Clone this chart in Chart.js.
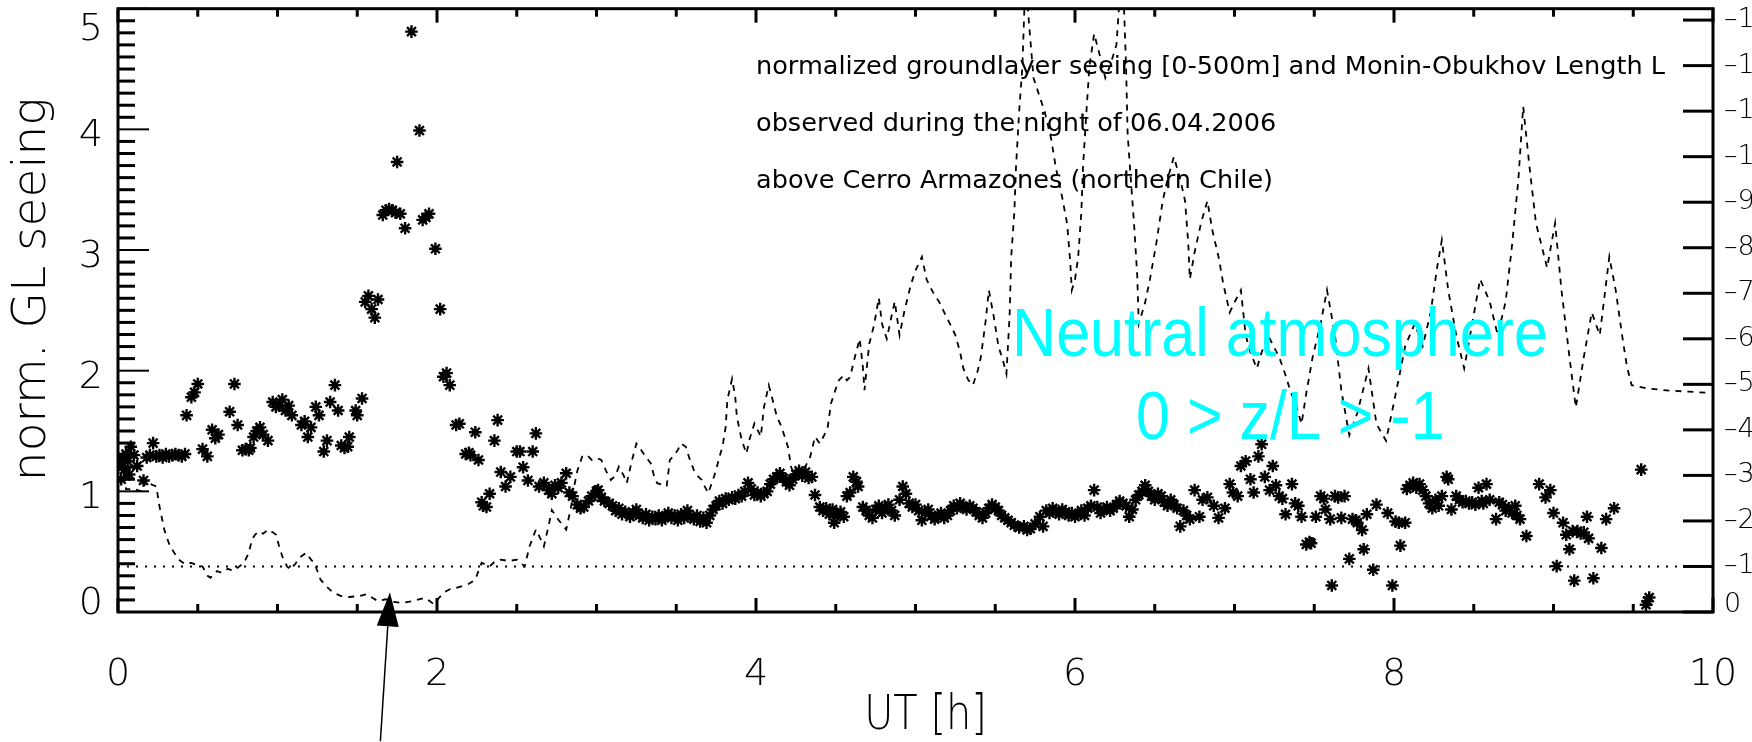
<!DOCTYPE html>
<html>
<head>
<meta charset="utf-8">
<script src="https://cdn.jsdelivr.net/npm/chart.js@4.4.1/dist/chart.umd.min.js"></script>
<style>
  body { margin: 0; background: #fff; }
  #wrap { width: 1752px; height: 742px; }
</style>
</head>
<body>
<div id="wrap"><canvas id="glChart" width="1752" height="742"></canvas></div>
<script>
// Ground layer seeing, normalized (stars), [UT hours, value]
const seeingPoints = [
  [0.01,1.22],[0.02,1.10],[0.03,1.28],[0.04,1.18],[0.05,1.31],[0.06,1.25],[0.07,1.14],[0.08,1.37],
  [0.10,1.30],[0.12,1.21],[0.16,1.09],[0.18,1.28],[0.20,1.30],[0.22,1.40],[0.24,1.29],[0.26,1.30],
  [0.28,1.28],[0.30,1.31],[0.32,1.29],[0.34,1.30],[0.36,1.31],[0.38,1.30],[0.40,1.29],[0.42,1.31],
  [0.43,1.63],[0.46,1.78],[0.48,1.82],[0.50,1.89],[0.53,1.35],[0.56,1.29],[0.59,1.51],[0.61,1.44],
  [0.63,1.47],[0.70,1.66],[0.73,1.89],[0.75,1.55],[0.78,1.34],[0.80,1.35],[0.82,1.34],[0.83,1.36],
  [0.85,1.45],[0.87,1.50],[0.89,1.53],[0.91,1.47],[0.94,1.42],[0.97,1.74],[0.99,1.70],[1.01,1.71],
  [1.03,1.76],[1.05,1.67],[1.07,1.71],[1.09,1.63],[1.15,1.55],[1.17,1.58],[1.19,1.45],[1.21,1.53],
  [1.24,1.70],[1.26,1.63],[1.29,1.33],[1.31,1.42],[1.33,1.74],[1.36,1.88],[1.38,1.67],[1.40,1.38],
  [1.42,1.36],[1.44,1.37],[1.45,1.45],[1.49,1.67],[1.50,1.63],[1.53,1.77],
  [1.55,2.57],[1.57,2.62],[1.59,2.51],[1.61,2.44],[1.63,2.59],[1.66,3.29],[1.68,3.33],[1.70,3.34],
  [1.72,3.33],[1.74,3.31],[1.75,3.73],[1.77,3.30],[1.80,3.18],[1.84,4.81],[1.89,3.99],[1.91,3.25],
  [1.93,3.27],[1.95,3.30],[1.99,3.01],[2.02,2.51],[2.04,1.95],[2.06,1.98],[2.08,1.88],[2.12,1.55],
  [2.14,1.56],[2.18,1.31],[2.20,1.32],[2.21,1.30],[2.24,1.49],[2.26,1.26],[2.28,0.91],[2.29,0.88],
  [2.31,0.87],[2.33,0.98],[2.36,1.42],[2.38,1.59],[2.40,1.16],[2.43,1.04],[2.46,1.12],[2.50,1.33],
  [2.52,1.33],[2.54,1.20],[2.57,1.09],[2.60,1.33],[2.62,1.48],[2.64,1.04],[2.67,1.07],[2.70,1.01],
  [2.72,0.98],[2.74,1.05],[2.76,1.03],[2.78,1.07],[2.81,1.15],[2.83,0.99],[2.85,0.96],[2.88,0.89],
  [2.90,0.86],[2.92,0.87],[2.95,0.92],[2.97,0.96],[3.00,1.00],[3.01,1.01],
  [3.03,0.95],[3.05,0.92],[3.08,0.90],[3.10,0.88],[3.12,0.84],[3.14,0.86],[3.16,0.81],[3.18,0.83],
  [3.21,0.79],[3.23,0.82],[3.25,0.85],[3.27,0.80],[3.29,0.78],[3.31,0.81],[3.33,0.76],[3.35,0.79],
  [3.37,0.77],[3.39,0.80],[3.41,0.76],[3.43,0.79],[3.45,0.82],[3.47,0.78],[3.49,0.80],[3.51,0.76],
  [3.53,0.81],[3.55,0.78],[3.57,0.84],[3.59,0.79],[3.61,0.77],[3.63,0.80],[3.65,0.75],[3.67,0.78],
  [3.69,0.74],[3.71,0.80],[3.73,0.85],[3.75,0.88],[3.77,0.92],[3.79,0.90],[3.81,0.94],[3.83,0.93],
  [3.85,0.95],[3.87,0.94],[3.89,0.97],[3.91,0.96],[3.93,1.00],[3.95,1.07],[3.97,1.02],[3.99,0.97],
  [4.01,0.99],[4.03,0.96],[4.05,0.98],[4.07,1.00],[4.09,1.06],[4.11,1.10],[4.13,1.12],[4.15,1.15],
  [4.17,1.11],[4.19,1.08],[4.21,1.05],[4.23,1.10],[4.25,1.14],[4.27,1.17],[4.29,1.13],[4.31,1.16],
  [4.33,1.11],[4.35,1.12],[4.37,0.97],[4.40,0.87],[4.42,0.84],[4.44,0.86],[4.46,0.81],[4.48,0.85],
  [4.49,0.74],[4.51,0.80],[4.53,0.83],[4.55,0.79],[4.57,0.96],[4.59,0.99],[4.61,1.12],[4.63,1.08],
  [4.64,1.04],[4.67,0.87],[4.69,0.84],[4.71,0.80],[4.73,0.78],[4.75,0.85],[4.77,0.88],[4.79,0.82],
  [4.81,0.86],[4.83,0.89],[4.85,0.84],[4.87,0.80],[4.90,0.93],[4.92,1.04],[4.94,0.98],[4.96,0.90],
  [4.98,0.87],[5.00,0.89],[5.02,0.84],[5.04,0.76],[5.06,0.82],[5.08,0.85],[5.10,0.80],[5.12,0.77],
  [5.14,0.79],[5.16,0.82],[5.18,0.78],[5.20,0.80],[5.22,0.84],[5.24,0.88],[5.26,0.86],[5.28,0.90],
  [5.30,0.87],[5.32,0.85],[5.34,0.88],[5.36,0.86],[5.38,0.83],[5.40,0.80],[5.42,0.78],[5.44,0.82],
  [5.46,0.86],[5.48,0.89],[5.50,0.87],[5.52,0.84],[5.54,0.80],[5.56,0.78],[5.58,0.76],[5.60,0.74],
  [5.62,0.72],[5.65,0.70],[5.68,0.71],[5.70,0.68],[5.72,0.69],[5.75,0.73],[5.78,0.79],[5.80,0.71],
  [5.82,0.84],[5.84,0.82],[5.86,0.86],[5.88,0.83],[5.90,0.81],[5.92,0.85],[5.94,0.83],[5.96,0.80],
  [5.98,0.82],[6.00,0.79],[6.02,0.81],[6.04,0.84],[6.06,0.80],[6.08,0.86],[6.10,0.88],[6.12,1.01],
  [6.14,0.87],[6.16,0.82],[6.18,0.85],[6.20,0.87],[6.22,0.84],[6.24,0.86],[6.26,0.89],[6.28,0.92],
  [6.30,0.90],[6.32,0.88],[6.34,0.79],[6.36,0.85],[6.38,0.93],[6.40,0.97],[6.42,1.00],[6.44,1.05],
  [6.46,1.00],[6.48,0.96],[6.50,0.93],[6.52,0.98],[6.54,0.96],[6.56,0.91],[6.58,0.88],[6.60,0.93],
  [6.62,0.89],[6.64,0.86],[6.66,0.71],[6.68,0.84],[6.70,0.80],[6.72,0.77],[6.75,1.01],[6.78,0.79],
  [6.80,0.93],[6.83,0.95],[6.87,0.88],[6.90,0.78],[6.94,0.86],[6.97,1.06],[6.99,0.99],[7.02,0.96],
  [7.04,1.21],[7.07,1.25],[7.10,1.10],[7.12,0.99],[7.15,1.29],[7.17,1.39],[7.19,1.12],[7.22,1.01],
  [7.24,1.21],[7.26,1.05],[7.28,0.96],[7.30,0.94],[7.32,0.81],[7.36,1.06],[7.38,0.90],[7.40,0.88],
  [7.42,0.79],[7.45,0.56],[7.47,0.58],[7.48,0.57],[7.51,0.79],[7.54,0.96],[7.56,0.94],[7.57,0.85],
  [7.60,0.77],[7.61,0.22],[7.63,0.96],[7.65,0.95],[7.67,0.78],[7.69,0.96],[7.72,0.44],[7.74,0.77],
  [7.76,0.76],[7.77,0.74],[7.80,0.68],[7.81,0.52],[7.83,0.81],[7.87,0.35],[7.89,0.89],[7.96,0.82],
  [7.99,0.22],[8.01,0.75],[8.03,0.74],[8.04,0.55],[8.07,0.74],[8.08,1.02],[8.10,1.05],[8.12,1.07],
  [8.14,1.03],[8.16,1.06],[8.18,1.01],[8.20,0.96],[8.22,0.90],[8.24,0.86],[8.26,0.93],[8.28,0.88],
  [8.30,0.96],[8.33,1.12],[8.34,1.10],[8.36,0.85],[8.39,0.96],[8.41,0.93],[8.43,0.91],[8.45,0.92],
  [8.47,0.90],[8.49,0.91],[8.51,0.89],[8.53,1.03],[8.55,0.92],[8.56,0.90],[8.58,1.06],[8.60,0.93],
  [8.64,0.77],[8.66,0.91],[8.68,0.89],[8.70,0.84],[8.72,0.86],[8.74,0.82],[8.76,0.88],[8.77,0.80],
  [8.79,0.77],[8.83,0.63],[8.91,1.06],[8.95,0.95],[8.98,1.01],[9.00,0.82],[9.02,0.38],[9.06,0.74],
  [9.08,0.64],[9.10,0.52],[9.12,0.67],[9.13,0.26],[9.15,0.67],[9.17,0.65],[9.19,0.66],[9.21,0.79],
  [9.22,0.61],[9.25,0.28],[9.30,0.53],[9.33,0.77],[9.38,0.86],[9.55,1.18],[9.58,0.06],[9.59,0.09],
  [9.60,0.12]
];

// Monin-Obukhov length L (dashed, right axis), [UT hours, L]
const lengthPoints = [
  [0.00,-3.1],[0.03,-3.3],[0.05,-2.7],[0.10,-2.7],[0.15,-2.65],[0.18,-2.9],[0.21,-2.8],[0.24,-2.76],
  [0.26,-2.32],[0.29,-1.81],[0.32,-1.5],[0.34,-1.37],[0.38,-1.15],[0.42,-1.05],[0.46,-1.08],[0.50,-1.02],
  [0.53,-1.0],[0.56,-0.8],[0.58,-0.75],[0.62,-0.9],[0.65,-0.86],[0.69,-0.95],[0.72,-0.90],[0.76,-1.0],
  [0.79,-1.08],[0.82,-1.3],[0.84,-1.59],[0.86,-1.7],[0.88,-1.77],[0.91,-1.72],[0.94,-1.81],[0.97,-1.75],
  [0.99,-1.70],[1.01,-1.45],[1.03,-1.22],[1.06,-1.0],[1.08,-0.93],[1.11,-1.05],[1.14,-1.2],[1.18,-1.30],
  [1.21,-1.15],[1.23,-1.08],[1.25,-0.9],[1.27,-0.71],[1.31,-0.55],[1.35,-0.42],[1.40,-0.35],[1.45,-0.33],
  [1.51,-0.35],[1.56,-0.39],[1.60,-0.3],[1.63,-0.24],[1.68,-0.28],[1.73,-0.22],[1.78,-0.20],[1.85,-0.24],
  [1.92,-0.31],[1.95,-0.25],[1.98,-0.17],[2.01,-0.3],[2.04,-0.42],[2.08,-0.5],[2.12,-0.53],[2.16,-0.57],
  [2.20,-0.62],[2.24,-0.71],[2.26,-0.9],[2.28,-1.08],[2.33,-1.0],[2.36,-1.1],[2.40,-1.15],[2.45,-1.12],
  [2.50,-1.15],[2.55,-1.0],[2.58,-1.44],[2.62,-1.81],[2.65,-1.6],[2.67,-1.44],[2.70,-1.9],[2.72,-2.24],
  [2.76,-2.03],[2.81,-1.81],[2.84,-2.3],[2.86,-2.76],[2.88,-3.1],[2.91,-3.41],[2.94,-3.45],[2.97,-3.34],
  [3.00,-3.38],[3.03,-3.34],[3.06,-3.1],[3.09,-2.90],[3.12,-3.0],[3.14,-3.19],[3.17,-3.0],[3.19,-2.83],
  [3.22,-3.3],[3.25,-3.70],[3.28,-3.56],[3.31,-3.4],[3.34,-3.27],[3.36,-3.0],[3.38,-2.83],[3.41,-2.8],
  [3.44,-2.76],[3.46,-3.34],[3.49,-3.45],[3.51,-3.56],[3.53,-3.7],[3.56,-3.63],[3.58,-3.4],[3.61,-3.12],
  [3.63,-3.0],[3.66,-2.90],[3.68,-2.75],[3.70,-2.61],[3.73,-2.9],[3.75,-3.12],[3.77,-3.4],[3.79,-3.63],
  [3.81,-4.07],[3.82,-4.65],[3.85,-5.12],[3.87,-4.72],[3.88,-4.29],[3.91,-3.78],[3.94,-3.48],[3.96,-3.8],
  [3.99,-4.14],[4.01,-4.0],[4.03,-3.85],[4.05,-4.50],[4.08,-4.98],[4.11,-4.58],[4.13,-4.3],[4.16,-4.07],
  [4.18,-3.85],[4.20,-3.63],[4.22,-3.19],[4.24,-3.0],[4.26,-2.97],[4.29,-3.1],[4.31,-3.2],[4.34,-3.41],
  [4.37,-3.85],[4.40,-3.70],[4.43,-3.9],[4.45,-4.07],[4.47,-4.58],[4.50,-4.9],[4.52,-5.09],[4.55,-5.2],
  [4.57,-5.09],[4.59,-5.16],[4.62,-5.60],[4.65,-6.0],[4.67,-5.38],[4.68,-4.87],[4.71,-5.89],[4.74,-6.3],
  [4.77,-6.9],[4.79,-6.33],[4.82,-6.0],[4.85,-6.5],[4.87,-6.82],[4.90,-6.08],[4.93,-6.6],[4.97,-7.18],
  [5.00,-7.5],[5.04,-7.80],[5.07,-7.3],[5.11,-7.02],[5.15,-6.8],[5.18,-6.58],[5.22,-6.3],[5.25,-6.08],
  [5.28,-5.7],[5.30,-5.35],[5.33,-5.1],[5.36,-4.98],[5.39,-5.3],[5.41,-5.60],[5.44,-6.4],[5.46,-7.07],
  [5.49,-6.5],[5.52,-5.84],[5.55,-5.5],[5.57,-5.23],[5.59,-6.5],[5.60,-7.80],[5.62,-8.8],[5.63,-9.76],
  [5.65,-11.0],[5.67,-11.97],[5.69,-14.0],[5.71,-13.0],[5.74,-11.73],[5.78,-11.3],[5.81,-10.99],[5.85,-10.4],
  [5.88,-9.76],[5.92,-9.1],[5.95,-8.54],[5.97,-7.7],[5.98,-7.07],[6.00,-7.3],[6.02,-7.80],[6.04,-8.8],
  [6.05,-9.76],[6.07,-10.9],[6.09,-11.97],[6.12,-12.70],[6.15,-12.3],[6.19,-11.73],[6.22,-12.0],[6.26,-12.46],
  [6.28,-13.5],[6.30,-14.0],[6.32,-12.0],[6.33,-10.5],[6.35,-9.5],[6.37,-8.54],[6.39,-7.4],[6.40,-6.33],
  [6.44,-6.8],[6.47,-7.31],[6.51,-8.1],[6.55,-9.03],[6.58,-9.5],[6.62,-10.0],[6.66,-9.5],[6.69,-9.03],
  [6.71,-8.1],[6.72,-7.31],[6.75,-7.9],[6.79,-8.54],[6.83,-9.03],[6.86,-8.4],[6.90,-7.80],[6.93,-7.2],
  [6.97,-6.58],[7.00,-6.8],[7.04,-7.07],[7.07,-6.08],[7.10,-5.7],[7.14,-5.35],[7.17,-5.7],[7.21,-6.08],
  [7.25,-5.8],[7.28,-5.60],[7.32,-5.2],[7.35,-4.86],[7.39,-4.5],[7.42,-4.13],[7.45,-4.8],[7.49,-5.60],
  [7.54,-6.33],[7.58,-7.07],[7.63,-6.08],[7.67,-4.86],[7.72,-3.88],[7.77,-4.37],[7.84,-5.35],[7.89,-4.13],
  [7.95,-3.76],[8.00,-4.61],[8.04,-5.3],[8.07,-5.84],[8.13,-6.33],[8.18,-5.84],[8.23,-6.58],[8.27,-7.56],
  [8.30,-8.17],[8.34,-7.07],[8.39,-6.08],[8.44,-5.35],[8.49,-6.33],[8.54,-7.31],[8.60,-6.82],[8.65,-6.08],
  [8.70,-6.82],[8.74,-8.05],[8.78,-9.51],[8.81,-11.1],[8.85,-9.76],[8.89,-8.54],[8.96,-7.56],[9.01,-8.54],
  [9.05,-7.07],[9.10,-5.60],[9.14,-4.49],[9.19,-5.60],[9.24,-6.58],[9.29,-6.08],[9.35,-7.80],[9.39,-7.07],
  [9.43,-6.08],[9.46,-5.4],[9.49,-4.98],[9.59,-4.91],[9.73,-4.86],[9.85,-4.84],[9.98,-4.81]
];

// z/L = -1 reference (dotted)
const limitPoints = [[0, -1], [10, -1]];

// axis ticks
const utTicks = [0, 2, 4, 6, 8, 10];
const seeingTicks = [0, 1, 2, 3, 4, 5];
const lengthTicks = [0, -1, -2, -3, -4, -5, -6, -7, -8, -9, -10, -11, -12, -13];

const infoLines = [
  'normalized groundlayer seeing [0-500m] and Monin-Obukhov Length L',
  'observed during the night of 06.04.2006',
  'above Cerro Armazones (northern Chile)'
];
const infoY = [4.46, 3.99, 3.51];
const neutralLines = ['Neutral atmosphere', '0 > z/L > -1'];

const THIN = '"DejaVu Sans", sans-serif';

function toXY(pairs) {
  return pairs.map(function (p) { return { x: p[0], y: p[1] }; });
}

// Draws the IDL style frame, inward ticks, labels and the annotations.
const idlFrame = {
  id: 'idlFrame',
  afterDatasetsDraw(chart) {
    const { ctx, chartArea: a, scales } = chart;
    const x = scales.x, y = scales.y, y2 = scales.y2;
    ctx.save();
    ctx.strokeStyle = '#000';
    ctx.fillStyle = '#000';
    ctx.lineCap = 'butt';

    function line(x1, y1, x2, y2p, w) {
      ctx.lineWidth = w;
      ctx.beginPath();
      ctx.moveTo(x1, y1);
      ctx.lineTo(x2, y2p);
      ctx.stroke();
    }

    // x ticks, top and bottom
    for (let i = 0; i <= 20; i++) {
      const px = x.getPixelForValue(i * 0.5);
      const len = (i % 4 === 0) ? 14 : 8;
      line(px, a.bottom, px, a.bottom - len, 3);
      line(px, a.top, px, a.top + len, 3);
    }
    // left ticks
    for (let i = 0; i <= 50; i++) {
      const py = y.getPixelForValue(i / 10);
      if (i % 10 === 0) line(a.left, py, a.left + 31, py, 2);
      else line(a.left, py, a.left + 17, py, 3);
    }
    // right ticks
    lengthTicks.forEach(function (v) {
      const py = y2.getPixelForValue(v);
      line(a.right, py, a.right - 30, py, 3);
    });
    // box
    ctx.lineWidth = 3;
    ctx.strokeRect(a.left, a.top, a.right - a.left, a.bottom - a.top);

    // tick labels
    ctx.font = '200 38px ' + THIN;
    ctx.textAlign = 'center';
    ctx.textBaseline = 'middle';
    utTicks.forEach(function (v) {
      ctx.fillText(String(v), x.getPixelForValue(v), a.bottom + 63);
    });
    ctx.textAlign = 'right';
    seeingTicks.forEach(function (v) {
      let py = y.getPixelForValue(v) + 7;
      py = Math.max(a.top + 21, Math.min(a.bottom - 8, py));
      ctx.fillText(String(v), a.left - 15, py);
    });
    ctx.font = '200 27px ' + THIN;
    ctx.textAlign = 'left';
    lengthTicks.forEach(function (v) {
      let py = y2.getPixelForValue(v);
      py = Math.min(a.bottom - 7, py);
      ctx.fillText(v === 0 ? '0' : '\u2013' + Math.abs(v), a.right + 11, py);
    });

    // axis titles
    ctx.save();
    ctx.translate((a.left + a.right) / 2 + 10, a.bottom + 104);
    ctx.scale(0.95, 1.15);
    ctx.font = '200 42px ' + THIN;
    ctx.textAlign = 'center';
    ctx.fillText('UT [h]', 0, 0);
    ctx.restore();
    ctx.save();
    ctx.translate(33, (a.top + a.bottom) / 2 - 21);
    ctx.rotate(-Math.PI / 2);
    ctx.font = '200 47px ' + THIN;
    ctx.textAlign = 'center';
    ctx.fillText('norm. GL seeing', 0, 0);
    ctx.restore();

    // info text, stretched to the width of the original
    ctx.font = '24px ' + THIN;
    ctx.textAlign = 'left';
    ctx.textBaseline = 'alphabetic';
    const sx = 909 / ctx.measureText(infoLines[0]).width;
    infoLines.forEach(function (t, i) {
      ctx.save();
      ctx.translate(x.getPixelForValue(4.0), y.getPixelForValue(infoY[i]));
      ctx.scale(sx, 1.05);
      ctx.fillText(t, 0, 0);
      ctx.restore();
    });

    // cyan label
    ctx.fillStyle = '#00ffff';
    ctx.font = '61px "Liberation Sans", Arial, sans-serif';
    ctx.textAlign = 'center';
    [[7.285, 2.12], [7.35, 1.43]].forEach(function (pos, i) {
      ctx.save();
      ctx.translate(x.getPixelForValue(pos[0]), y.getPixelForValue(pos[1]));
      ctx.scale(1, 1.12);
      ctx.fillText(neutralLines[i], 0, 0);
      ctx.restore();
    });

    // arrow
    const tipX = x.getPixelForValue(1.705), tipY = y.getPixelForValue(0.163);
    const tailX = x.getPixelForValue(1.645), tailY = y.getPixelForValue(-1.07);
    const ang = Math.atan2(tipY - tailY, tipX - tailX);
    const hl = 34, hw = 11;
    const bx = tipX - hl * Math.cos(ang), by = tipY - hl * Math.sin(ang);
    ctx.fillStyle = '#000';
    line(tailX, tailY, bx, by, 1.5);
    ctx.beginPath();
    ctx.moveTo(tipX, tipY);
    ctx.lineTo(bx + hw * Math.sin(ang), by - hw * Math.cos(ang));
    ctx.lineTo(bx - hw * Math.sin(ang), by + hw * Math.cos(ang));
    ctx.closePath();
    ctx.fill();

    ctx.restore();
  }
};

const hiddenScale = {
  grid: { display: false },
  border: { display: false },
  ticks: { display: false }
};

const ctx = document.getElementById('glChart').getContext('2d');
const chart = new Chart(ctx, {
  type: 'scatter',
  data: {
    datasets: [{
      label: 'norm. GL seeing',
      data: toXY(seeingPoints),
      yAxisID: 'y',
      showLine: false,
      pointStyle: 'star',
      pointRadius: 6.3,
      pointBorderWidth: 2.4,
      borderColor: '#000',
      backgroundColor: '#000'
    }, {
      label: 'Monin-Obukhov Length L',
      data: toXY(lengthPoints),
      yAxisID: 'y2',
      showLine: true,
      pointRadius: 0,
      borderColor: '#000',
      borderWidth: 1.8,
      borderDash: [6, 6]
    }, {
      label: 'z/L = -1',
      data: toXY(limitPoints),
      yAxisID: 'y2',
      showLine: true,
      pointRadius: 0,
      borderColor: '#000',
      borderWidth: 2,
      borderDash: [2, 7]
    }]
  },
  options: {
    responsive: false,
    animation: false,
    devicePixelRatio: 1,
    layout: { padding: { top: 8, left: 0, right: 0, bottom: 0 } },
    plugins: { legend: { display: false }, tooltip: { enabled: false } },
    scales: {
      x: Object.assign({
        type: 'linear', position: 'bottom', min: 0, max: 10,
        afterFit: function (s) { s.height = 130; }
      }, hiddenScale),
      y: Object.assign({
        type: 'linear', position: 'left', min: 0, max: 5,
        afterFit: function (s) { s.width = 118; }
      }, hiddenScale),
      y2: Object.assign({
        type: 'linear', position: 'right', min: -13.25, max: 0, reverse: true,
        afterFit: function (s) { s.width = 39; }
      }, hiddenScale)
    }
  },
  plugins: [idlFrame]
});
</script>
</body>
</html>
